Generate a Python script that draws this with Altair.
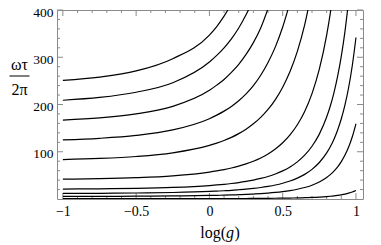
import altair as alt
import pandas as pd

# shared x grid (log g)
X_GRID = [-1, -0.75, -0.5, -0.25, 0, 0.05, 0.1, 0.15, 0.2, 0.25, 0.3, 0.35, 0.4, 0.45,
          0.5, 0.55, 0.6, 0.65, 0.7, 0.75, 0.8, 0.825, 0.85, 0.875, 0.9, 0.925, 0.95, 0.975, 1.0]

# curve values (omega tau / 2 pi)
C1 = [251, 258, 271, 297, 347, 365, 387, 413]
C2 = [209, 215, 226, 246, 290, 304, 320, 339, 362, 390, 422]
C3 = [167, 171.5, 180, 196, 230, 241, 253, 268, 285, 306, 331, 362, 403, 450]
C4 = [125, 128.4, 134.5, 146.3, 170, 177.5, 186, 196, 208, 222.5, 240, 262, 289, 322, 364, 416]
C5 = [83.5, 85.8, 89.9, 97.7, 113.4, 118.2, 123.8, 130.5, 138.4, 147.7, 159.1, 172.8, 189.5,
      210.4, 236.6, 269.7, 312.5, 368.5, 443.6]
C6 = [42, 43.1, 45.2, 49.1, 57.0, 59.5, 62.3, 65.6, 69.6, 74.3, 80.0, 86.9, 95.3, 105.8, 119.0,
      135.7, 157.2, 185.3, 223.1, 274.7, 346.9, 393.5, 450.7]
C7 = [21, 21.6, 22.6, 24.6, 28.5, 29.7, 31.1, 32.8, 34.8, 37.2, 40.0, 43.5, 47.7, 52.9, 59.5,
      67.8, 78.6, 92.7, 111.6, 137.3, 173.5, 196.8, 225.3, 260.0, 302.2, 354.7, 420.0]
C8 = [11.8, 12.1, 12.7, 13.8, 16.0, 16.7, 17.5, 18.4, 19.6, 20.9, 22.5, 24.4, 26.8, 29.7, 33.4,
      38.1, 44.2, 52.1, 62.7, 77.2, 97.5, 110.6, 126.6, 146.1, 169.8, 199.3, 236.0, 282.6, 341.7]
C9 = [5.5, 5.65, 5.92, 6.44, 7.47, 7.79, 8.16, 8.6, 9.11, 9.73, 10.48, 11.38, 12.49, 13.86, 15.58,
      17.77, 20.58, 24.27, 29.22, 35.97, 45.43, 51.5, 59.0, 68.1, 79.1, 92.9, 110.0, 131.7, 159.3]
C10 = [0.62, 0.64, 0.67, 0.73, 0.84, 0.88, 0.92, 0.97, 1.03, 1.10, 1.18, 1.28, 1.41, 1.56, 1.76,
       2.0, 2.32, 2.74, 3.29, 4.05, 5.12, 5.81, 6.65, 7.68, 8.92, 10.47, 12.4, 14.85, 17.96]

CURVES = [C1, C2, C3, C4, C5, C6, C7, C8, C9, C10]

X_LABEL_VALUES = [-1, -0.5, 0, 0.5, 1]
X_MINOR = [-0.9, -0.8, -0.7, -0.6, -0.4, -0.3, -0.2, -0.1, 0.1, 0.2, 0.3, 0.4, 0.6, 0.7, 0.8, 0.9]
Y_LABEL_VALUES = [100, 200, 300, 400]
Y_MINOR = [20, 40, 60, 80, 120, 140, 160, 180, 220, 240, 260, 280, 320, 340, 360, 380]

rows = []
for i, c in enumerate(CURVES):
    for x, y in zip(X_GRID, c):
        rows.append({"curve": i, "x": x, "y": y})
df = pd.DataFrame(rows)

W, H = 306, 189
FONT = "Liberation Serif"
GRAY = "#8a8a8a"

xs = alt.Scale(domain=[-1.04, 1.048], nice=False, zero=False)
ys = alt.Scale(domain=[0, 400], nice=False, zero=False)

lines = alt.Chart(df).mark_line(clip=True, color="black", strokeWidth=1.2, interpolate="monotone").encode(
    x=alt.X("x:Q", scale=xs, axis=alt.Axis(values=X_LABEL_VALUES, format="~g", ticks=False, domain=False,
                                          grid=False, labelFont=FONT, labelFontSize=14, labelColor="black",
                                          labelPadding=5, labelFlush=False, labelOverlap=False, title=None)),
    y=alt.Y("y:Q", scale=ys, axis=alt.Axis(values=Y_LABEL_VALUES, ticks=False, domain=False, grid=False,
                                          labelFont=FONT, labelFontSize=13.5, labelColor="black",
                                          labelPadding=4, labelOffset=2, labelOverlap=False, title=None)),
    detail="curve:N",
)

xmaj = pd.DataFrame({"v": X_LABEL_VALUES})
xmin = pd.DataFrame({"v": X_MINOR})
ymaj = pd.DataFrame({"v": Y_LABEL_VALUES})
ymin = pd.DataFrame({"v": Y_MINOR})

def xticks(d, L):
    b = alt.Chart(d).mark_rule(color=GRAY, strokeWidth=1)
    return (b.encode(x=alt.X("v:Q", scale=xs), y=alt.value(H), y2=alt.value(H - L)) +
            b.encode(x=alt.X("v:Q", scale=xs), y=alt.value(0), y2=alt.value(L)))

def yticks(d, L):
    b = alt.Chart(d).mark_rule(color=GRAY, strokeWidth=1)
    return (b.encode(y=alt.Y("v:Q", scale=ys), x=alt.value(0), x2=alt.value(L)) +
            b.encode(y=alt.Y("v:Q", scale=ys), x=alt.value(W), x2=alt.value(W - L)))

def txt(s, x, y, align="center", size=16, style="normal"):
    return alt.Chart(pd.DataFrame({"t": [s]})).mark_text(
        font=FONT, fontSize=size, fontStyle=style, align=align, baseline="alphabetic", color="black"
    ).encode(x=alt.value(x), y=alt.value(y), text="t:N")

TX = -37.5
frac_line = alt.Chart(pd.DataFrame({"t": [0]})).mark_rule(color="black", strokeWidth=1).encode(
    x=alt.value(TX - 10), x2=alt.value(TX + 10), y=alt.value(66))

chart = alt.layer(
    xticks(xmaj, 6), xticks(xmin, 3), yticks(ymaj, 6), yticks(ymin, 3),
    lines,
    txt("ωτ", TX, 60), frac_line, txt("2π", TX, 85),
    txt("log(", 169, 228, align="right"), txt("g", 169, 228, align="left", style="italic"),
    txt(")", 177.5, 228, align="left"),
).resolve_scale(x="shared", y="shared").properties(
    width=W, height=H,
    padding={"left": 49, "top": 2, "right": 10, "bottom": 46},
    autosize=alt.AutoSizeParams(type="none"),
).configure_view(stroke=GRAY, strokeWidth=1).configure_axis(
    labelFont=FONT, titleFont=FONT
).configure_text(font=FONT)

chart.save("out.html", embed_options={"renderer": "svg", "actions": False})
